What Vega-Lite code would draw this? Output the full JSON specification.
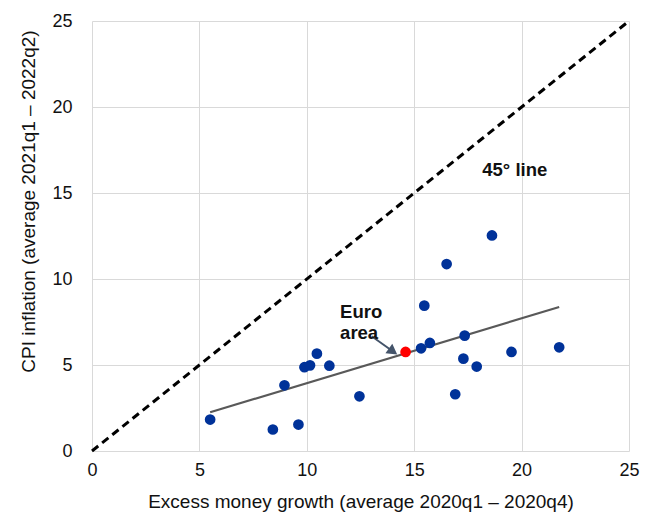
{
  "$schema": "https://vega.github.io/schema/vega-lite/v6.json",
  "width": 537,
  "height": 430,
  "autosize": "none",
  "padding": {"left": 92, "top": 21, "right": 22, "bottom": 64},
  "background": "white",
  "config": {
    "view": {"stroke": null},
    "font": "Liberation Sans",
    "axis": {
      "domain": false,
      "ticks": false,
      "gridColor": "#d9d9d9",
      "gridWidth": 1,
      "labelFont": "Liberation Sans",
      "labelFontSize": 18,
      "labelColor": "#111111",
      "labelFlush": false,
      "titleFont": "Liberation Sans",
      "titleFontSize": 19,
      "titleFontWeight": "normal",
      "titleColor": "#111111"
    }
  },
  "datasets": {
    "pts": [
      {"money": 5.50, "cpi": 1.83, "group": "country"},
      {"money": 8.42, "cpi": 1.25, "group": "country"},
      {"money": 9.61, "cpi": 1.54, "group": "country"},
      {"money": 8.96, "cpi": 3.82, "group": "country"},
      {"money": 9.89, "cpi": 4.87, "group": "country"},
      {"money": 10.15, "cpi": 4.98, "group": "country"},
      {"money": 10.47, "cpi": 5.66, "group": "country"},
      {"money": 11.05, "cpi": 4.96, "group": "country"},
      {"money": 12.45, "cpi": 3.18, "group": "country"},
      {"money": 15.32, "cpi": 5.97, "group": "country"},
      {"money": 15.73, "cpi": 6.28, "group": "country"},
      {"money": 15.47, "cpi": 8.45, "group": "country"},
      {"money": 16.51, "cpi": 10.87, "group": "country"},
      {"money": 18.62, "cpi": 12.53, "group": "country"},
      {"money": 17.35, "cpi": 6.71, "group": "country"},
      {"money": 17.29, "cpi": 5.37, "group": "country"},
      {"money": 17.91, "cpi": 4.91, "group": "country"},
      {"money": 16.91, "cpi": 3.30, "group": "country"},
      {"money": 19.53, "cpi": 5.76, "group": "country"},
      {"money": 21.75, "cpi": 6.03, "group": "country"},
      {"money": 14.60, "cpi": 5.76, "group": "euro"}
    ],
    "fit": [
      {"money": 5.50, "cpi": 2.25},
      {"money": 21.75, "cpi": 8.37}
    ],
    "diag": [
      {"money": 0, "cpi": 0},
      {"money": 25, "cpi": 25}
    ],
    "arrow": [
      {"money": 13.02, "cpi": 6.67, "money2": 14.0, "cpi2": 5.8}
    ],
    "head": [
      {"money": 13.95, "cpi": 5.84}
    ],
    "labels": [
      {"money": 11.55, "cpi": 7.75, "label": "Euro"},
      {"money": 11.55, "cpi": 6.53, "label": "area"},
      {"money": 18.17, "cpi": 15.96, "label": "45° line"}
    ]
  },
  "encoding": {
    "x": {
      "field": "money", "type": "quantitative",
      "scale": {"domain": [0, 25], "nice": false},
      "axis": {
        "values": [0, 5, 10, 15, 20, 25],
        "labelPadding": 10,
        "title": "Excess money growth (average 2020q1 – 2020q4)",
        "titleY": 56,
        "titleBaseline": "alphabetic"
      }
    },
    "y": {
      "field": "cpi", "type": "quantitative",
      "scale": {"domain": [0, 25], "nice": false},
      "axis": {
        "values": [0, 5, 10, 15, 20, 25],
        "labelPadding": 20,
        "title": "CPI inflation (average 2021q1 – 2022q2)",
        "titleX": -58,
        "titleY": 180,
        "titleBaseline": "alphabetic",
        "titleAngle": -90,
        "titleAlign": "center"
      }
    }
  },
  "layer": [
    {
      "data": {"name": "diag"},
      "mark": {"type": "line", "color": "black", "strokeWidth": 3, "strokeDash": [8, 5]},
      "encoding": {}
    },
    {
      "data": {"name": "fit"},
      "mark": {"type": "line", "color": "#595959", "strokeWidth": 2.2},
      "encoding": {}
    },
    {
      "data": {"name": "arrow"},
      "mark": {"type": "rule", "color": "#44546A", "strokeWidth": 2},
      "encoding": {
        "x2": {"field": "money2"},
        "y2": {"field": "cpi2"}
      }
    },
    {
      "data": {"name": "head"},
      "mark": {"type": "point", "shape": "triangle", "filled": true, "color": "#44546A", "opacity": 1, "size": 140, "angle": 125.6},
      "encoding": {}
    },
    {
      "data": {"name": "pts"},
      "mark": {"type": "circle", "size": 115, "opacity": 1},
      "encoding": {
        "color": {
          "field": "group", "type": "nominal",
          "scale": {"domain": ["country", "euro"], "range": ["#003299", "#ff0000"]},
          "legend": null
        }
      }
    },
    {
      "data": {"name": "labels"},
      "mark": {"type": "text", "align": "left", "baseline": "alphabetic", "fontWeight": "bold", "fontSize": 18.5, "color": "#111111", "font": "Liberation Sans"},
      "encoding": {"text": {"field": "label"}}
    }
  ]
}
